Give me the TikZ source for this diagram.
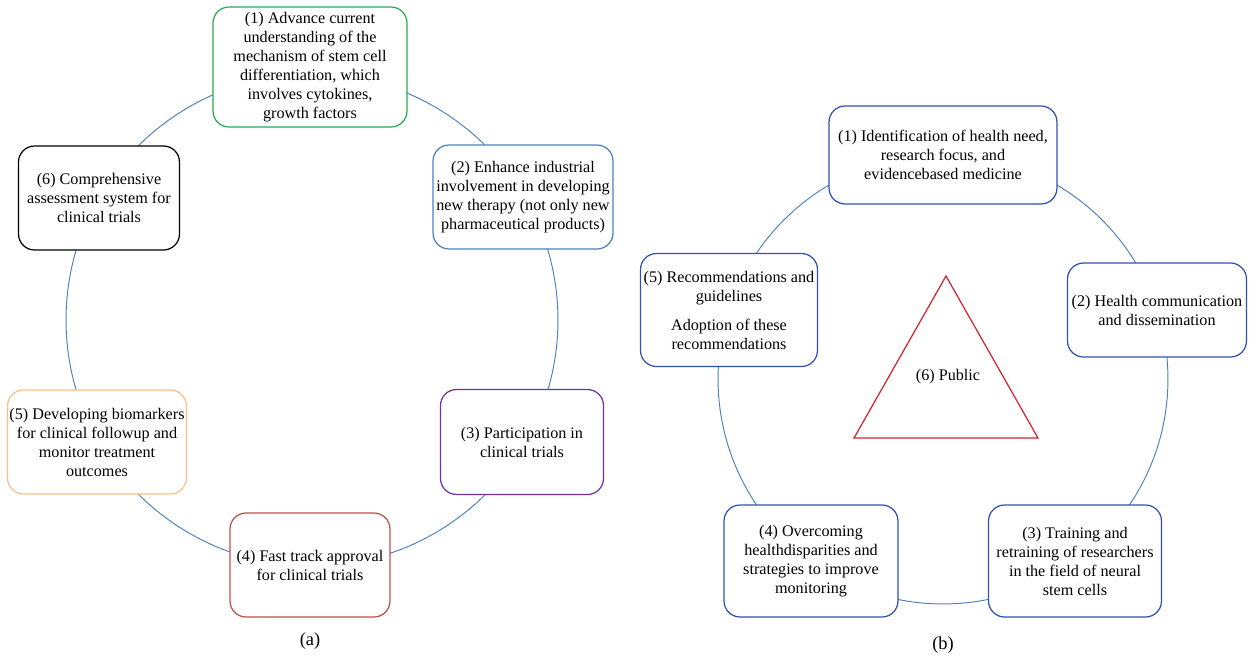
\documentclass[tikz,border=0pt]{standalone}
\usepackage{fontspec}
\setmainfont{Liberation Serif}
\usepackage{tikz}

\definecolor{arcblue}{RGB}{79,129,189}
\definecolor{boxgreen}{RGB}{40,170,80}
\definecolor{boxpurple}{RGB}{112,48,160}
\definecolor{boxred}{RGB}{192,80,77}
\definecolor{boxorange}{RGB}{250,190,140}
\definecolor{boxblue}{RGB}{50,80,180}
\definecolor{trired}{RGB}{210,35,45}

\begin{document}
\begin{tikzpicture}[x = 0.02cm, y = -0.02cm]

  \tikzstyle{step box} = [rectangle, draw, fill = white, rounded corners = 0.32cm,
    line width = 0.7pt, align = center, inner sep = 1pt,
    font = \fontsize{9.2}{10.8}\selectfont]
  \tikzstyle{ring} = [arcblue, line width = 0.55pt]
  \tikzstyle{caption} = [font = \fontsize{10.5}{12}\selectfont]

  \useasboundingbox (0,0) rectangle (1251,657);

  % (a) cycle
  \coordinate (ca) at (312,320);
  \draw[ring] (ca) circle (4.92cm);

  \node[step box, draw = boxgreen, minimum width = 3.88cm, minimum height = 2.4cm] (a1) at (310,67)
    {(1) Advance current\\ understanding of the\\ mechanism of stem cell\\ differentiation, which\\ involves cytokines,\\ growth factors};
  \node[step box, draw = arcblue, minimum width = 3.6cm, minimum height = 2.08cm] (a2) at (523,197)
    {(2) Enhance industrial\\ involvement in developing\\ new therapy (not only new\\ pharmaceutical products)};
  \node[step box, draw = boxpurple, minimum width = 3.26cm, minimum height = 2.1cm] (a3) at (522,442)
    {(3) Participation in\\ clinical trials};
  \node[step box, draw = boxred, minimum width = 3.2cm, minimum height = 2.08cm] (a4) at (310,565)
    {(4) Fast track approval\\ for clinical trials};
  \node[step box, draw = boxorange, minimum width = 3.58cm, minimum height = 2.08cm] (a5) at (97,442)
    {(5) Developing biomarkers\\ for clinical followup and\\ monitor treatment\\ outcomes};
  \node[step box, draw = black, minimum width = 3.22cm, minimum height = 2.08cm] (a6) at (99,198)
    {(6) Comprehensive\\ assessment system for\\ clinical trials};
  \node[caption] (capa) at (310,641) {(a)};

  % (b) cycle
  \coordinate (cb) at (943,379);
  \draw[ring] (cb) circle (4.5cm);

  \node[step box, draw = boxblue, minimum width = 4.56cm, minimum height = 1.96cm] (b1) at (943,155)
    {(1) Identification of health need,\\ research focus, and\\ evidencebased medicine};
  \node[step box, draw = boxblue, minimum width = 3.58cm, minimum height = 1.88cm] (b2) at (1157,310)
    {(2) Health communication\\ and dissemination};
  \node[step box, draw = boxblue, minimum width = 3.46cm, minimum height = 2.24cm] (b3) at (1075,561)
    {(3) Training and\\ retraining of researchers\\ in the field of neural\\ stem cells};
  \node[step box, draw = boxblue, minimum width = 3.48cm, minimum height = 2.24cm] (b4) at (811,561)
    {(4) Overcoming\\ healthdisparities and\\ strategies to improve\\ monitoring};
  \node[step box, draw = boxblue, minimum width = 3.54cm, minimum height = 2.26cm] (b5) at (729,310)
    {(5) Recommendations and\\ guidelines\\[0.2cm] Adoption of these\\ recommendations};

  \coordinate (tl) at (854,438);
  \coordinate (tr) at (1038,438);
  \coordinate (tt) at (946,276);
  \draw[trired, line width = 0.7pt] (tl) -- (tr) -- (tt) -- cycle;
  \node[step box, draw = none, fill = none] (pub) at (948,377) {(6) Public};
  \node[caption] (capb) at (943,645) {(b)};
\end{tikzpicture}
\end{document}
